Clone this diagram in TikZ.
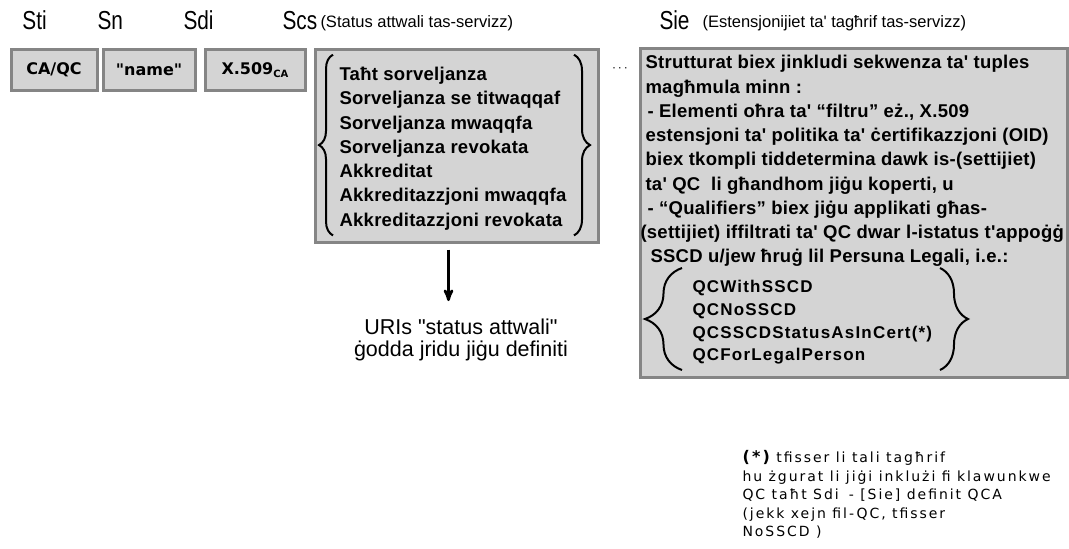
\documentclass[tikz,border=0pt]{standalone}
\usepackage{fontspec}
\setmainfont[Ligatures=TeXOff]{Liberation Sans}
\newfontfamily\headfont[FakeStretch=0.8]{Liberation Sans}
\newfontfamily\tagfont{DejaVu Sans}
\newfontfamily\listfont[LetterSpace=1.5]{Liberation Sans}
\newfontfamily\qcfont[LetterSpace=7]{Liberation Sans}
\newfontfamily\notefont[LetterSpace=14]{DejaVu Sans}
\usetikzlibrary{arrows,positioning,decorations.pathreplacing}
\definecolor{fieldgray}{HTML}{D4D4D4}
\definecolor{rimgray}{HTML}{858585}
\newcommand{\fsz}[2]{\fontsize{#1}{#2}\selectfont}

\begin{document}
\begin{tikzpicture}[x=1pt, y=-1pt, >=stealth', line width=1pt,
  field/.style={draw=rimgray, fill=fieldgray, line width=3pt, inner sep=0pt},
  tag/.style={font=\tagfont\bfseries\fsz{16}{18}},
  head/.style={anchor=base west, inner sep=0pt, font=\headfont\fsz{26}{26}},
  sub/.style={anchor=base west, inner sep=0pt, font=\fsz{16.5}{18}},
  list/.style={anchor=north west, inner sep=0pt, align=left, font=\listfont\bfseries\fsz{18.5}{24.25}},
  curly/.style={decorate, decoration={brace, amplitude=#1}, line width=2pt}]
\useasboundingbox (0,0) rectangle (1069,549);

% headings
\node[head] (hti) at (22,29) {Sti};
\node[head] (hn) at (97,29) {Sn};
\node[head] (hdi) at (183,29) {Sdi};
\node[head] (hcs) at (282,29) {Scs};
\node[sub] (hcsx) at (320,27) {(Status attwali tas-servizz)};
\node[head] (hie) at (659,29) {Sie};
\node[sub] (hiex) at (702,27) {(Estensjonijiet ta' tagħrif tas-servizz)};

% small fields
\node[field, tag, minimum width=86, minimum height=41, anchor=north west] (ti) at (9.5,48) {CA/QC};
\node[field, tag, minimum width=92, minimum height=41, right=3pt of ti] (n) {"name"};
\node[field, tag, minimum width=100, minimum height=41, right=7pt of n] (di) {X.509{\fsz{10}{10}\raisebox{-3pt}{CA}}};

% status field
\node[field, minimum width=283, minimum height=192.5, anchor=north west] (cs) at (313.5,48) {};
\node[list] (cslist) at (339,66.7) {Taħt sorveljanza\\
  Sorveljanza se titwaqqaf\\
  Sorveljanza mwaqqfa\\
  Sorveljanza revokata\\
  Akkreditat\\
  Akkreditazzjoni mwaqqfa\\
  Akkreditazzjoni revokata};
\draw[curly=14pt] ([shift={(-6,5)}]cslist.south west) -- ([shift={(-6,-12)}]cslist.north west);
\draw[curly=16pt] ([shift={(235,-12)}]cslist.north west) -- ([shift={(235,5)}]cslist.south west);

\node[font=\fsz{12}{12}] (gap) at (620,70) {·\,·\,·};

% extension field
\node[field, minimum width=427, minimum height=328.5, anchor=north west] (ie) at (638.5,47) {};
\node[list] (ielist) at (645,55) {Strutturat biex jinkludi sekwenza ta' tuples\\
  magħmula minn :\\
  \hspace*{2pt}- Elementi oħra ta' “filtru” eż., X.509\\
  estensjoni ta' politika ta' ċertifikazzjoni (OID)\\
  biex tkompli tiddetermina dawk is-(settijiet)\\
  ta' QC\ \ li għandhom jiġu koperti, u\\
  \hspace*{2pt}- “Qualifiers” biex jiġu applikati għas-\\
  \hspace*{-5pt}(settijiet) iffiltrati ta' QC dwar l-istatus t'appoġġ\\
  \hspace*{5pt}SSCD u/jew ħruġ lil Persuna Legali, i.e.:};
\node[list, font=\qcfont\bfseries\fsz{17}{22.7}] (qclist) at (692,280) {QCWithSSCD\\
  QCNoSSCD\\
  QCSSCDStatusAsInCert(*)\\
  QCForLegalPerson};
\draw[curly=37pt] ([shift={(-10,5)}]qclist.south west) -- ([shift={(-10,-12)}]qclist.north west);
\draw[curly=28pt] ([shift={(248,-12)}]qclist.north west) -- ([shift={(248,5)}]qclist.south west);

% status URIs
\node[anchor=north, inner sep=0pt, align=center, font=\fsz{21.5}{22}] (uris) at (461,318) {URIs "status attwali"\\ ġodda jridu jiġu definiti};
\draw[->, line width=2.7pt, shorten <=6pt, shorten >=17pt] ([xshift=-8pt]cs.south) -- ([xshift=-8pt]cs.south |- uris.north);

% footnote
\node[anchor=north west, inner sep=0pt, align=left, font=\notefont\fsz{14}{18.5}] (note) at (742,450) {{\bfseries\fsz{16}{18.5}(*)} tfisser li tali tagħrif\\
  hu żgurat li jiġi inklużi fi klawunkwe\\
  QC taħt Sdi\hspace{10pt}- [Sie] definit QCA\\
  (jekk xejn fil-QC, tfisser\\
  NoSSCD )};
\end{tikzpicture}
\end{document}
